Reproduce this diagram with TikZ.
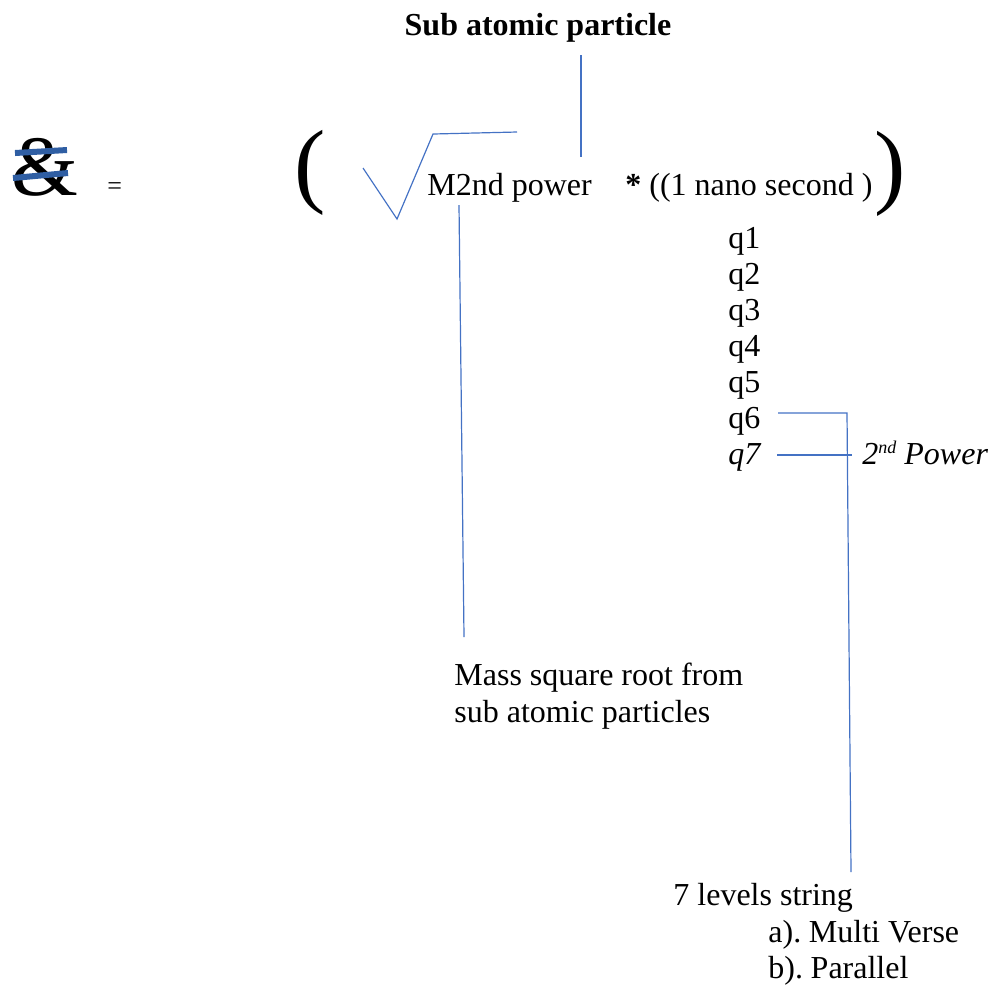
\documentclass[tikz,border=0pt]{standalone}
\usepackage{fontspec}
\setmainfont{Liberation Serif}
\usetikzlibrary{positioning}
\definecolor{lineblue}{RGB}{68,114,196}
\definecolor{barblue}{RGB}{47,94,163}

\begin{document}
\begin{tikzpicture}[x=0.5pt,y=-0.5pt,
    txt/.style={anchor=base west, inner sep=0pt, font=\fontsize{16}{19}\selectfont},
    link/.style={lineblue, line width=0.6pt}]
        \useasboundingbox (0,0) rectangle (999,987);

        % Heading over the root
        \node[txt, anchor=base, font=\fontsize{16}{19}\selectfont\bfseries] (title) at (538,35) {Sub atomic particle};
        \coordinate (tick top) at (581,55);
        \coordinate (tick foot) at (581,157);
        \draw[link] (tick top) -- (tick foot);

        % Left hand side: struck ampersand
        \node[txt, font=\fontsize{43}{43}\selectfont] (amp) at (11,195) {\&};
        \draw[barblue, line width=3pt] (15,153) -- (67,150);
        \draw[barblue, line width=3pt] (13,178) -- (68,173);
        \node[txt, font=\fontsize{13}{13}\selectfont] (equals) at (107,194) {=};

        % Big brackets
        \node[txt, font=\fontsize{47}{47}\selectfont] (lpar) at (294,195) {(};
        \node[txt, font=\fontsize{47}{47}\selectfont] (rpar) at (874,196) {)};

        % Hand drawn radical sign
        \coordinate (root start) at (363,168);
        \coordinate (root low) at (397,219);
        \coordinate (root high) at (433,134);
        \coordinate (root end) at (517,132);
        \draw[link] (root start) -- (root low) -- (root high) -- (root end);

        % Terms inside the brackets
        \node[txt] (mass) at (427,195) {M2nd power};
        \node[txt] (factor) at (625,195) {\textbf{*} ((1 nano second )};

        % Lead from the mass down to its note
        \coordinate (mass lead) at (459,205);
        \coordinate (note top) at (464,637);
        \draw[link] (mass lead) -- (note top);
        \node[txt] (note1) at (454,685) {Mass square root from};
        \node[txt] (note2) at (454,722) {sub atomic particles};

        % Column of q levels
        \foreach \i in {1,...,6}
            \node[txt] (q\i) at (728,{248+36*(\i-1)}) {q\i};
        \node[txt, font=\fontsize{16}{19}\selectfont\itshape] (q7) at (728,464) {q7};
        \node[txt, font=\fontsize{16}{19}\selectfont\itshape] (power) at (862,464) {2\raisebox{0.75ex}{\fontsize{9}{9}\selectfont nd} Power};

        % Brackets from q6 / q7
        \coordinate (q6 tail) at (778,413);
        \coordinate (corner) at (847,413);
        \coordinate (string top) at (851,872);
        \coordinate (q7 tail) at (777,455);
        \coordinate (q7 head) at (852,455);
        \draw[link] (q6 tail) -- (corner) -- (string top);
        \draw[link] (q7 tail) -- (q7 head);

        % String note
        \node[txt] (levels) at (673,905) {7 levels string};
        \node[txt] (multi) at (768,942) {a).\hspace{-1.5pt} Multi Verse};
        \node[txt] (parallel) at (768,978) {b).\hspace{-1.5pt} Parallel};

\end{tikzpicture}
\end{document}
